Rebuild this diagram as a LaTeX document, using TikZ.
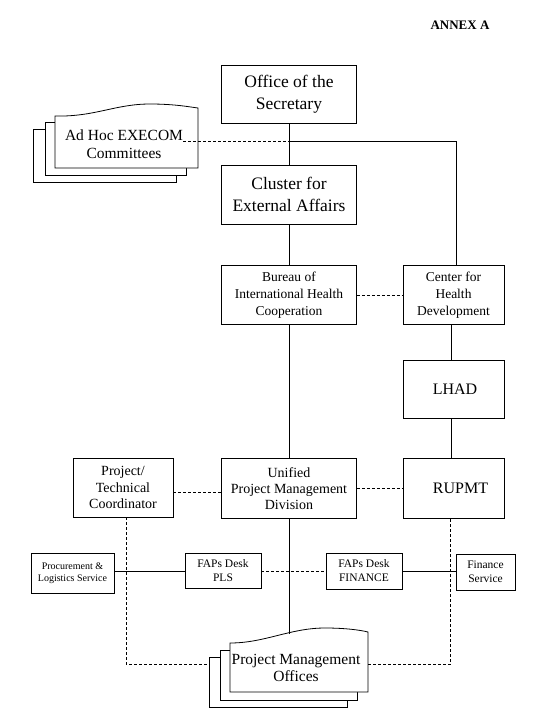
\documentclass[tikz,border=0pt]{standalone}
\usepackage{fontspec}
\setmainfont{Liberation Serif}
\begin{document}
\begin{tikzpicture}[x=1pt,y=-1pt,
  box/.style={draw=black, line width=0.9pt, fill=white, inner sep=0pt, align=center},
  page/.style={draw=black, line width=0.8pt, fill=white},
  link/.style={draw=black, line width=0.8pt},
  dlink/.style={draw=black, line width=0.8pt, dash pattern=on 3pt off 2pt},
  fhuge/.style={font=\fontsize{17.5}{21.5}\selectfont},
  flarge/.style={font=\fontsize{16}{19}\selectfont},
  fmid/.style={font=\fontsize{13.5}{16.7}\selectfont},
  fmidb/.style={font=\fontsize{14}{16.3}\selectfont},
  fsmall/.style={font=\fontsize{11.5}{14}\selectfont},
  ftiny/.style={font=\fontsize{10}{11.5}\selectfont},
  fdoc/.style={font=\fontsize{15.5}{17.5}\selectfont}]
\fill[white] (0,0) rectangle (542,724);
\useasboundingbox (0,0) rectangle (542,724);

% title
\node[font=\fontsize{13}{15}\selectfont\bfseries, inner sep=0pt] (annex) at (460,25) {ANNEX A};

% Ad Hoc stack
\draw[page] (33,129) rectangle (176,182);
\draw[page] (45,122) rectangle (186,175);
\draw[page] (55,116) .. controls (95,117) and (115,104) .. (150,104) .. controls (175,104) and (190,107) .. (198,108) -- (198,168) -- (55,168) -- cycle;
\node[fdoc, inner sep=0pt, align=center] (adhoc) at (124,144) {Ad Hoc EXECOM\\Committees};

% main column
\node[box, fhuge, minimum width=135pt, minimum height=58pt] (office) at (289,94) {Office of the\\Secretary};
\node[box, fhuge, minimum width=135pt, minimum height=59pt] (cluster) at (289,194.5) {Cluster for\\External Affairs};
\node[box, fmid, minimum width=135pt, minimum height=59pt] (bureau) at (289,295) {Bureau of\\International Health\\Cooperation};
\node[box, fmidb, minimum width=135pt, minimum height=60pt] (upmd) at (289,488.5) {Unified\\Project Management\\Division};

% right column
\node[box, fmid, minimum width=101pt, minimum height=59pt] (chd) at (453.5,295) {Center for\\Health\\Development};
\node[box, flarge, minimum width=101pt, minimum height=58pt] (lhad) at (453.5,389) {\hspace*{3pt}LHAD};
\node[box, flarge, minimum width=101pt, minimum height=60pt] (rupmt) at (453.5,488.5) {\hspace*{14pt}RUPMT};

% left
\node[box, fmidb, minimum width=100pt, minimum height=59pt] (ptc) at (123,487.5) {Project/\\Technical\\Coordinator};

% desks row
\node[box, ftiny, minimum width=83pt, minimum height=40pt] (procure) at (72.5,573) {Procurement \&\\Logistics Service};
\node[box, fsmall, minimum width=76pt, minimum height=35pt] (pls) at (223,571) {FAPs Desk\\PLS};
\node[box, fsmall, minimum width=76pt, minimum height=36pt] (fin) at (364,571) {FAPs Desk\\FINANCE};
\node[box, fsmall, minimum width=59pt, minimum height=36pt] (finserv) at (485.5,572) {Finance\\Service};

% PMO stack
\draw[page] (209,657) rectangle (347,707);
\draw[page] (220,650) rectangle (357,700);
\draw[page] (230,643) .. controls (265,643) and (290,628) .. (325,628) .. controls (345,628) and (360,630) .. (368,632) -- (368,692) -- (230,692) -- cycle;
\node[fdoc, inner sep=0pt, align=center] (pmo) at (296,668) {Project Management\\Offices};

\coordinate (j) at (289,141);
\coordinate (pmotop) at (289,633.5);
\coordinate (pmol) at (209,664);
\coordinate (pmor) at (368,664);

% connectors
\draw[link] (office.south) -- (cluster.north);
\draw[link] (j) -| ([xshift=3pt]chd.north);
\draw[dlink] (adhoc.east |- j) -- (j);
\draw[link] (cluster.south) -- (bureau.north);
\draw[link] (bureau.south) -- (upmd.north);
\draw[link] (upmd.south) -- (pmotop);
\draw[dlink] (bureau.east) -- (chd.west);
\draw[link] ([xshift=-2pt]chd.south) -- ([xshift=-2pt]lhad.north);
\draw[link] ([xshift=-2pt]lhad.south) -- ([xshift=-2pt]rupmt.north);
\draw[dlink] (upmd.east) -- (rupmt.west);
\draw[dlink] ([yshift=-5pt]ptc.east) -- ([yshift=-5pt]ptc.east -| upmd.west);
\draw[link] (procure.east |- pls.west) -- (pls.west);
\draw[dlink] (pls.east) -- (fin.west |- pls.east);
\draw[link] (fin.east) -- (finserv.west |- fin.east);
\draw[dlink] ([xshift=3pt]ptc.south) |- (pmol);
\draw[dlink] (pmor) -| ([xshift=-3pt]rupmt.south);
\end{tikzpicture}
\end{document}
